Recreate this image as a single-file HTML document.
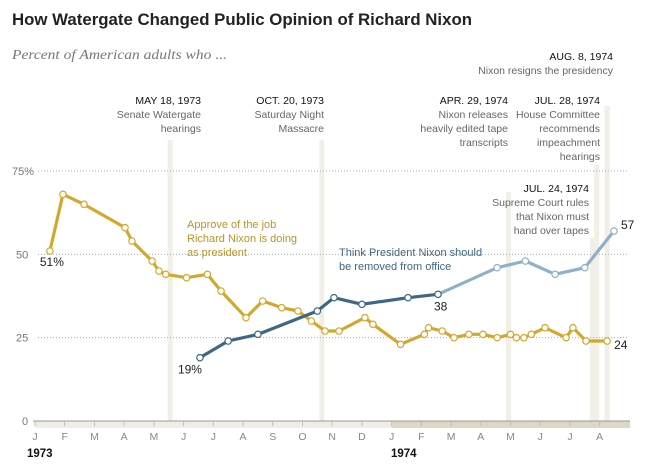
<!DOCTYPE html>
<html><head><meta charset="utf-8"><style>
body{margin:0;background:#fff;}
svg{display:block;font-family:"Liberation Sans",sans-serif;}
</style></head><body>
<svg id="chart" width="654" height="471" viewBox="0 0 654 471">
<text x="12" y="25" font-size="16.5" font-weight="bold" fill="#222" textLength="460" lengthAdjust="spacingAndGlyphs">How Watergate Changed Public Opinion of Richard Nixon</text>
<text x="12" y="59" font-size="14" font-style="italic" font-family="Liberation Serif,serif" fill="#777" textLength="215" lengthAdjust="spacingAndGlyphs">Percent of American adults who ...</text>
<g id="bands"></g>
<g id="grid"></g>
<g id="axis"></g>
<g id="events"></g>
<g id="series"></g>
<g id="labels">
<text x="187" y="228" font-size="11" fill="#b8952a">Approve of the job</text>
<text x="187" y="242" font-size="11" fill="#b8952a">Richard Nixon is doing</text>
<text x="187" y="256" font-size="11" fill="#b8952a">as president</text>
<text x="339" y="256" font-size="11" fill="#3f6785">Think President Nixon should</text>
<text x="339" y="270" font-size="11" fill="#3f6785">be removed from office</text>
</g>
</svg>
<script>
const months = ['J','F','M','A','M','J','J','A','S','O','N','D','J','F','M','A','M','J','J','A'];
const yTicks = [0,25,50,75];
const approveT = [0.5,0.94,1.65,3.03,3.26,3.94,4.17,4.4,5.1,5.8,6.26,7.1,7.66,8.3,8.85,9.3,9.76,10.23,11.1,11.37,12.3,13.1,13.24,13.7,14.1,14.6,15.07,15.55,16.0,16.2,16.45,16.7,17.16,17.87,18.1,18.54,19.25];
const approveV = [51,68,65,58,54,48,45,44,43,44,39,31,36,34,33,30,27,27,31,29,23,26,28,27,25,26,26,25,26,25,25,26,28,25,28,24,24];
const removeT = [5.55,6.5,7.5,9.5,10.06,11.0,12.55,13.56,15.55,16.5,17.5,18.5,19.48];
const removeV = [19,24,26,33,37,35,37,38,46,48,44,46,57];
const eventT = [4.55,9.65,15.93,18.75,18.9,19.25];
const eventTop = [140,140,192,238,165,106];

const NS='http://www.w3.org/2000/svg';
const x = m => 35 + 29.72*m;
const y = v => 421 - v*3.3333;
function mk(tag, attrs, parent){const e=document.createElementNS(NS,tag);for(const k in attrs)e.setAttribute(k,attrs[k]);document.getElementById(parent).appendChild(e);return e;}

eventT.forEach((t,i)=>{
  const r=mk('rect',{x:x(t)-2.5,y:eventTop[i],width:5,height:421-eventTop[i],fill:'#f1efe6'},'bands');
  
  
});
yTicks.forEach(v=>{
  if(v>0){const l=mk('line',{x1:38,x2:628,y1:y(v),y2:y(v),stroke:'#aaa','stroke-dasharray':'1,2','stroke-width':1},'grid');
  
  }
  const t=mk('text',{x:v===75?12:(v===0?22:16),y:y(v)+4,'font-size':11,fill:'#777'},'grid');
  t.textContent = v===75?'75%':String(v);
  
  
});
let r1=mk('rect',{x:35,y:421,width:x(12)-35,height:7,fill:'#f0eee4'},'axis');


let r2=mk('rect',{x:x(12),y:421,width:630-x(12),height:7,fill:'#ddd8c5'},'axis');


let al=mk('line',{x1:33,x2:630,y1:421,y2:421,stroke:'#999'},'axis');


months.forEach((m,i)=>{
  const tk=mk('line',{x1:x(i),x2:x(i),y1:421,y2:426,stroke:'#bbb'},'axis');
  
  
  const t=mk('text',{x:x(i),y:440,'font-size':10.5,fill:'#888','text-anchor':'middle'},'axis');
  t.textContent=m;
  
  
});
[['1973',27],['1974',391]].forEach(([s,px])=>{
  const t=mk('text',{x:px,y:457,'font-size':11.5,'font-weight':'bold',fill:'#111'},'axis');
  t.textContent=s;
  
  
});
const evText=[
 [201,104,['MAY 18, 1973','Senate Watergate','hearings']],
 [324,104,['OCT. 20, 1973','Saturday Night','Massacre']],
 [508,104,['APR. 29, 1974','Nixon releases','heavily edited tape','transcripts']],
 [600,104,['JUL. 28, 1974','House Committee','recommends','impeachment','hearings']],
 [613,60,['AUG. 8, 1974','Nixon resigns the presidency']],
 [589,192,['JUL. 24, 1974','Supreme Court rules','that Nixon must','hand over tapes']]
];
evText.forEach(([ex,ey,lines])=>{
  lines.forEach((s,j)=>{
    const t=mk('text',{x:ex,y:ey+j*14,'font-size':10.5,'text-anchor':'end',fill:j===0?'#111':'#666'},'events');
    t.textContent=s;
    
    
  });
});
function line(T,V,from,to,color,name){
  const pts=[];for(let i=from;i<=to;i++)pts.push(x(T[i])+','+y(V[i]));
  const p=mk('polyline',{points:pts.join(' '),fill:'none',stroke:color,'stroke-width':3.2,'stroke-linejoin':'round'},'series');
  
  
}
function dots(T,V,color,name){
  T.forEach((t,i)=>{
    const c=mk('circle',{cx:x(t),cy:y(V[i]),r:3.2,fill:'#fff',stroke:typeof color==='function'?color(i):color,'stroke-width':1.2},'series');
    
    
  });
}
line(approveT,approveV,0,approveT.length-1,'#d4a82f','approve-line');
line(removeT,removeV,7,removeT.length-1,'#8fb0c9','remove-line-light');
line(removeT,removeV,0,7,'#3f6785','remove-line');
dots(approveT,approveV,'#d4a82f','approve-point');
dots(removeT,removeV,i=>i<=7?'#3f6785':'#8fb0c9','remove-point');
[[x(approveT[0])-10,y(approveV[0])+15,approveV[0]+'%'],
 [x(removeT[0])-22,y(removeV[0])+16,removeV[0]+'%'],
 [x(removeT[7])-4,y(removeV[7])+16,String(removeV[7])],
 [x(removeT[removeT.length-1])+7,y(removeV[removeV.length-1])-2,String(removeV[removeV.length-1])],
 [x(approveT[approveT.length-1])+7,y(approveV[approveV.length-1])+8,String(approveV[approveV.length-1])]
].forEach(([lx,ly,s])=>{
  const t=mk('text',{x:lx,y:ly,'font-size':12,fill:'#222'},'series');
  t.textContent=s;
  
  
});
</script>
</body></html>
